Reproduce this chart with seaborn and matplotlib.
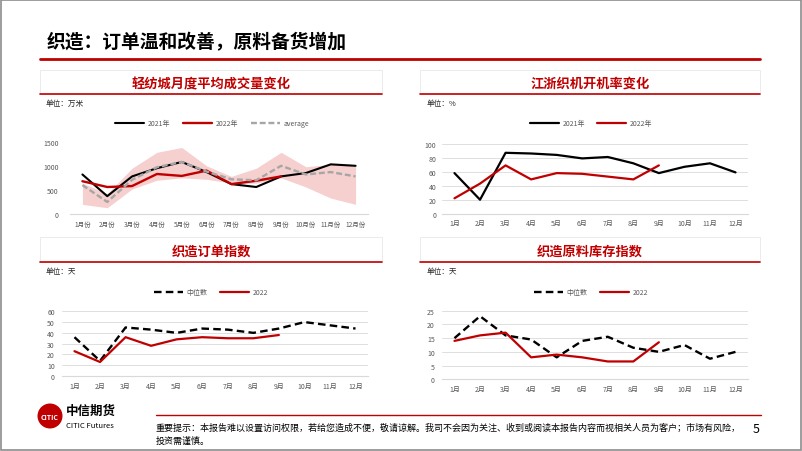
import numpy as np
import pandas as pd
import seaborn as sns
import matplotlib.pyplot as plt
from matplotlib.patches import Rectangle, Ellipse
from matplotlib.lines import Line2D

W, H = 802, 452

# 轻纺城月度平均成交量（万米）
months_a = ['1月份', '2月份', '3月份', '4月份', '5月份', '6月份',
            '7月份', '8月份', '9月份', '10月份', '11月份', '12月份']
vol_2021 = [820, 370, 780, 950, 1080, 870, 620, 560, 780, 850, 1030, 1000]
vol_2022 = [680, 560, 580, 830, 790, 900, 620, 690, 780]
vol_avg = [600, 250, 710, 970, 1080, 880, 720, 700, 1000, 820, 870, 780]
vol_high = [640, 420, 950, 1280, 1380, 1000, 780, 950, 1280, 980, 1030, 1000]
vol_low = [200, 130, 520, 700, 750, 720, 640, 640, 750, 560, 330, 200]

# 江浙织机开机率（%）
months_b = ['1月', '2月', '3月', '4月', '5月', '6月',
            '7月', '8月', '9月', '10月', '11月', '12月']
rate_2021 = [58, 20, 87, 86, 84, 79, 81, 72, 58, 67, 72, 59]
rate_2022 = [22, 43, 69, 49, 58, 57, 53, 49, 69]

# 织造订单指数（天）
order_median = [36, 14, 45, 43, 40, 44, 43, 40, 44, 50, 47, 44]
order_2022 = [23, 13, 36, 28, 34, 36, 35, 35, 38]

# 织造原料库存指数（天）
stock_median = [15, 23, 16, 14.5, 8, 14, 15.5, 11.5, 10, 12.5, 7.5, 10]
stock_2022 = [14, 16, 17, 8, 9, 8, 6.5, 6.5, 13.5]

RED = '#C00000'
GREY_TXT = '#595959'

sns.set_style('white')
plt.rcParams['font.family'] = ['Noto Sans CJK SC', 'DejaVu Sans']

fig = plt.figure(figsize=(W / 100, H / 100), dpi=100)


def fx(x):
    return x / W


def fy(y):
    return 1 - y / H


def add_ax(x0, y0, x1, y1):
    return fig.add_axes([fx(x0), fy(y1), (x1 - x0) / W, (y1 - y0) / H])


def draw_lines(ax, series, colors, dashes, widths):
    rows = []
    for name, vals in series:
        for i, v in enumerate(vals):
            rows.append({'pos': i, 'val': v, 'name': name})
    df = pd.DataFrame(rows)
    names = [s[0] for s in series]
    sns.lineplot(data=df, x='pos', y='val', hue='name', hue_order=names,
                 style='name', style_order=names, palette=colors, dashes=dashes,
                 sort=False, legend=False, ax=ax, linewidth=1.6)
    lines = ax.get_lines()[:len(names)]
    for ln, name in zip(lines, names):
        ln.set_linewidth(widths[name])
        ln.set_clip_on(False)
    return lines, names


def style_ax(ax, months, ymax, step, grid, ypad, xsize=5):
    ax.set_xlim(-0.5, len(months) - 0.5)
    ax.set_xticks(range(len(months)), months)
    ax.set_ylim(0, ymax)
    ax.set_yticks(np.arange(0, ymax + 1, step))
    ax.tick_params(length=0, labelsize=5, labelcolor=GREY_TXT)
    ax.tick_params(axis='y', pad=ypad)
    ax.tick_params(axis='x', pad=4, labelsize=xsize)
    for s in ['top', 'right', 'left']:
        ax.spines[s].set_visible(False)
    ax.spines['bottom'].set_color('#D9D9D9')
    ax.spines['bottom'].set_linewidth(0.8)
    if grid:
        ax.yaxis.grid(True, color='#D9D9D9', linewidth=0.6)
        ax.set_axisbelow(True)
    ax.set_xlabel('')
    ax.set_ylabel('')
    ax.patch.set_alpha(0)


def add_legend(ax, lines, names, cx, cy):
    ax.legend(lines, names, loc='center', bbox_to_anchor=(fx(cx), fy(cy)),
              bbox_transform=fig.transFigure, ncol=len(names), frameon=False,
              fontsize=5, labelcolor=GREY_TXT, handlelength=4.2,
              columnspacing=1.8, handletextpad=0.5)


def panel_header(x0, x1, ytop, ybot, title, unit, ux, uy):
    fig.add_artist(Rectangle((fx(x0), fy(ybot)), (x1 - x0) / W, (ybot - ytop) / H,
                             transform=fig.transFigure, facecolor='white',
                             edgecolor='#E8E8E8', linewidth=0.6))
    fig.add_artist(Line2D([fx(x0), fx(x1)], [fy(ybot), fy(ybot)],
                          transform=fig.transFigure, color=RED, linewidth=1.2))
    fig.text(fx((x0 + x1) / 2), fy((ytop + ybot) / 2 + 1), title, color=RED,
             fontsize=9.5, fontweight='bold', ha='center', va='center')
    fig.text(fx(ux), fy(uy), unit, fontsize=5.5, color='#262626',
             ha='left', va='center')


# slide frame, title and rule
fig.add_artist(Rectangle((0.001, 0.002), 0.998, 0.996, transform=fig.transFigure,
                         facecolor='none', edgecolor='#8C8C8C', linewidth=1.2))
fig.text(fx(47), fy(43), '织造：订单温和改善，原料备货增加', fontsize=13.5,
         fontweight='bold', color='black', ha='left', va='center')
fig.add_artist(Line2D([fx(40), fx(760)], [fy(60), fy(60)],
                      transform=fig.transFigure, color=RED, linewidth=2))

# panel 1
panel_header(40, 382, 71, 95, '轻纺城月度平均成交量变化', '单位：万米', 46, 104)
ax1 = add_ax(70, 142.7, 368, 215)
ax1.fill_between(range(len(vol_high)), vol_low, vol_high, color='#F5CACA',
                 linewidth=0, alpha=0.9)
lines, names = draw_lines(
    ax1,
    [('2021年', vol_2021), ('2022年', vol_2022), ('average', vol_avg)],
    {'2021年': 'black', '2022年': RED, 'average': '#A6A6A6'},
    {'2021年': '', '2022年': '', 'average': (2.5, 1.2)},
    {'2021年': 1.5, '2022年': 1.7, 'average': 1.7})
style_ax(ax1, months_a, 1500, 500, False, 8, xsize=4.7)
add_legend(ax1, lines, names, 212, 124)

# panel 2
panel_header(420, 760, 71, 95, '江浙织机开机率变化', '单位：%', 427, 104)
ax2 = add_ax(441.7, 144.7, 748.3, 214.7)
lines, names = draw_lines(
    ax2,
    [('2021年', rate_2021), ('2022年', rate_2022)],
    {'2021年': 'black', '2022年': RED},
    {'2021年': '', '2022年': ''},
    {'2021年': 1.6, '2022年': 1.6})
style_ax(ax2, months_b, 100, 20, True, 4)
add_legend(ax2, lines, names, 591, 124)

# panel 3
panel_header(40, 382, 238, 263, '织造订单指数', '单位：天', 46, 272)
ax3 = add_ax(61.7, 312.3, 368.3, 377)
lines, names = draw_lines(
    ax3,
    [('中位数', order_median), ('2022', order_2022)],
    {'中位数': 'black', '2022': RED},
    {'中位数': (3.2, 1.8), '2022': ''},
    {'中位数': 1.7, '2022': 1.6})
style_ax(ax3, months_b, 60, 10, True, 5)
add_legend(ax3, lines, names, 211, 293)

# panel 4
panel_header(420, 760, 238, 263, '织造原料库存指数', '单位：天', 427, 272)
ax4 = add_ax(441.7, 311.7, 748.3, 380.3)
lines, names = draw_lines(
    ax4,
    [('中位数', stock_median), ('2022', stock_2022)],
    {'中位数': 'black', '2022': RED},
    {'中位数': (3.2, 1.8), '2022': ''},
    {'中位数': 1.7, '2022': 1.6})
style_ax(ax4, months_b, 25, 5, True, 5)
add_legend(ax4, lines, names, 591, 293)

# footer
fig.add_artist(Ellipse((fx(50), fy(417)), 25 / W, 25 / H, transform=fig.transFigure,
                       facecolor=RED, edgecolor='none'))
fig.text(fx(50), fy(417), 'CITIC', color='white', fontsize=5, fontweight='bold',
         ha='center', va='center')
fig.text(fx(66), fy(411), '中信期货', fontsize=9, fontweight='bold', color='black',
         ha='left', va='center')
fig.text(fx(66), fy(426), 'CITIC Futures', fontsize=5.5, color='black',
         ha='left', va='center')
fig.add_artist(Line2D([fx(156), fx(761)], [fy(416), fy(416)],
                      transform=fig.transFigure, color=RED, linewidth=1))
fig.text(fx(156), fy(428),
         '重要提示：本报告难以设置访问权限，若给您造成不便，敬请谅解。我司不会因为关注、收到或阅读本报告内容而视相关人员为客户；市场有风险，',
         fontsize=6.5, color='black', ha='left', va='center')
fig.text(fx(156), fy(441), '投资需谨慎。', fontsize=6.5, color='black',
         ha='left', va='center')
fig.text(fx(756), fy(430), '5', fontsize=9, color='black', ha='center', va='center')

fig.savefig('out.png', dpi=100)
